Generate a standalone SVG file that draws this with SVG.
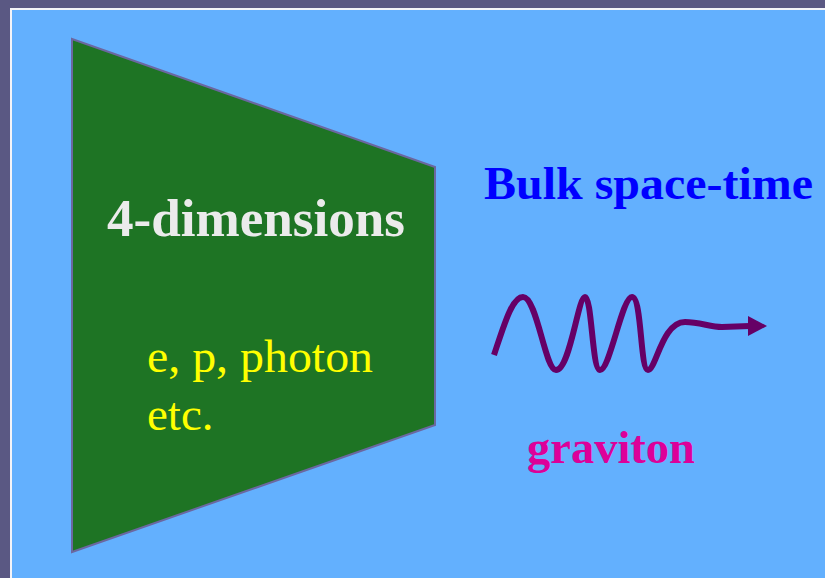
<svg xmlns="http://www.w3.org/2000/svg" width="825" height="578" viewBox="0 0 825 578">
<style>
.b{font-family:"Liberation Serif","Times New Roman",serif;font-weight:bold}
.r{font-family:"Liberation Serif","Times New Roman",serif}
</style>
<rect x="0" y="0" width="825" height="578" fill="#5a5883"/>
<rect x="10" y="8" width="815" height="570" fill="#f4f4f8"/>
<rect x="12" y="10" width="813" height="568" fill="#63b0fe"/>
<g id="brane">
<polygon points="72,39 435,167 435,425 72,552" fill="#1e7424" stroke="#6b67a0" stroke-width="2"/>
<text class="b" x="256" y="236" font-size="52" fill="#ebebeb" text-anchor="middle" textLength="298" lengthAdjust="spacingAndGlyphs">4-dimensions</text>
<text class="r" x="147" y="372" font-size="47" fill="#ffff00" textLength="226" lengthAdjust="spacingAndGlyphs">e, p, photon</text>
<text class="r" x="147" y="430" font-size="47" fill="#ffff00">etc.</text>
</g>
<g id="bulk">
<text class="b" x="484" y="199" font-size="47" fill="#0000ff" textLength="329" lengthAdjust="spacingAndGlyphs">Bulk space-time</text>
</g>
<g id="connectors">
<path d="M494,355 C504,325 512,297 523,297 C537,297 545,370 556,370 C570,370 578,297 585,297 C592,297 592,370 600,370 C610,370 622,297 632,297 C642,297 640,370 648,370 C656,370 662,322 685,322 C700,322 710,327 722,327 L750,326" fill="none" stroke="#660066" stroke-width="6" stroke-linecap="butt" stroke-linejoin="round"/>
<polygon points="748,316 767,326 748,336" fill="#660066"/>
</g>
<g id="graviton">
<text class="b" x="527" y="463" font-size="47" fill="#dd0099" textLength="168" lengthAdjust="spacingAndGlyphs">graviton</text>
</g>
</svg>
